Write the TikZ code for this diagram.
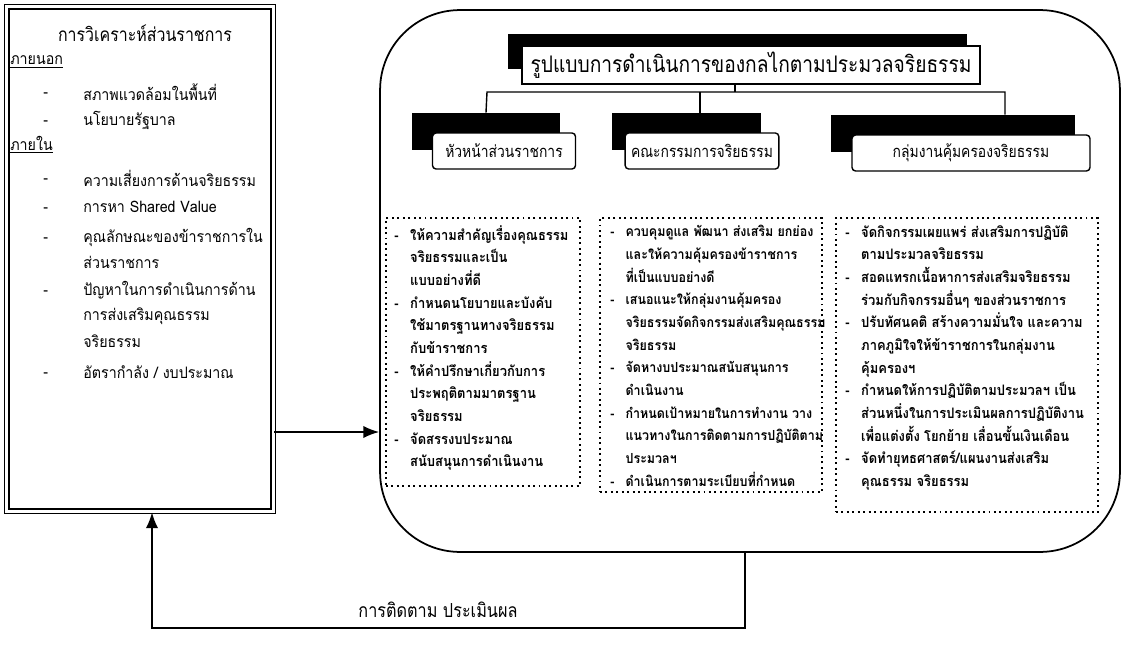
\documentclass[tikz,border=0pt]{standalone}
\usepackage{fontspec}
\setmainfont[Script=Thai]{Loma}
\newfontfamily\sidefont[Script=Thai, FakeStretch=0.9]{Loma}
\newfontfamily\headfont[Script=Thai, FakeStretch=0.84]{Loma}
\newfontfamily\taskfont[Script=Thai, FakeStretch=0.9]{Loma}
\usetikzlibrary{arrows.meta, positioning, calc}
\newcommand{\dsh}{\makebox[1.1em][l]{-}}
\newcommand{\cnt}{\hspace*{1.1em}}

\begin{document}
\begin{tikzpicture}[x=0.02cm, y=-0.02cm,
    frame/.style={draw, double, double distance=1.4pt, line width=1pt},
    shadowbox/.style={fill=black, draw=black},
    titlebox/.style={draw, fill=white, line width=0.8pt, minimum width=9.16cm, minimum height=0.68cm, font=\headfont\fontsize{13}{15}\selectfont},
    headbox/.style={draw, fill=white, rounded corners=2pt, line width=0.8pt, minimum height=0.72cm, font=\headfont\fontsize{9.4}{11}\selectfont},
    taskbox/.style={draw, dotted, line width=1.1pt},
    tasktext/.style={anchor=north west, align=left, inner sep=0pt, font=\taskfont\bfseries\fontsize{8.2}{12.9}\selectfont},
    side/.style={anchor=west, inner sep=0pt, font=\sidefont\fontsize{9}{12}\selectfont},
    tree/.style={line width=0.8pt},
    flow/.style={-{Latex[length=9pt,width=7pt]}, line width=1pt}]

    \useasboundingbox (0,0) rectangle (1123,666);

    % left: analysis of the agency
    \node (anal) [frame, minimum width=5.34cm, minimum height=10.1cm] at (140,259) {};
    \node (atitle) [font=\headfont\fontsize{10.8}{13}\selectfont] at (145,33) {การวิเคราะห์ส่วนราชการ};
    \node (outside) [side] at (10,62) {\underline{ภายนอก}};
    \node (inside) [side] at (10,145) {\underline{ภายใน}};
    \foreach \y [count=\i] in {92,120,178,207,237,290,372}
        \node (dash\i) [side] at (43,\y+3) {-};
    \foreach \y/\t [count=\i] in {92/สภาพแวดล้อมในพื้นที่, 120/นโยบายรัฐบาล,
        178/ความเสี่ยงการด้านจริยธรรม, 207/การหา Shared Value,
        237/คุณลักษณะของข้าราชการใน, 262/ส่วนราชการ,
        290/ปัญหาในการดำเนินการด้าน, 316/การส่งเสริมคุณธรรม,
        341/จริยธรรม, 372/{อัตรากำลัง / งบประมาณ}}
        \node (ln\i) [side] at (83,\y) {\t};

    % right: mechanism
    \node (mech) [draw, line width=1pt, rounded corners=1.6cm, minimum width=14.8cm, minimum height=10.84cm] at (750,281) {};

    \node (ttlsh) [shadowbox, minimum width=9.16cm, minimum height=0.68cm] at (737,51) {};
    \node (ttl) [titlebox] at (751,65) {รูปแบบการดำเนินการของกลไกตามประมวลจริยธรรม};

    \node (hd1sh) [shadowbox, minimum width=2.94cm, minimum height=0.72cm] at (486,131) {};
    \node (hd2sh) [shadowbox, minimum width=2.96cm, minimum height=0.72cm] at (686,131) {};
    \node (hd3sh) [shadowbox, minimum width=4.86cm, minimum height=0.72cm] at (953,133) {};
    \node (hd1) [headbox, minimum width=2.86cm] at (504,151) {หัวหน้าส่วนราชการ};
    \node (hd2) [headbox, minimum width=2.8cm] at (702,151) {คณะกรรมการจริยธรรม};
    \node (hd3) [headbox, minimum width=4.76cm] at (971,153) {กลุ่มงานคุ้มครองจริยธรรม};

    \coordinate (bus) at (735,92);
    \coordinate (b1) at (487,92);
    \coordinate (b2) at (700,92);
    \coordinate (b3) at (1005,92);
    \draw[tree] (ttl.south -| bus) -- (bus);
    \draw[tree] (hd1sh.north) -- (b1) -- (b3) -- (b3 |- hd3sh.north);
    \draw[tree] (b2) -- (b2 |- hd2sh.north);

    \node (task1) [taskbox, minimum width=3.88cm, minimum height=5.36cm] at (483,352) {};
    \node (task2) [taskbox, minimum width=4.44cm, minimum height=5.48cm] at (711,355) {};
    \node (task3) [taskbox, minimum width=5.24cm, minimum height=5.88cm] at (967,365) {};

    \node (txt1) [tasktext] at (394,225) {%
        \dsh ให้ความสำคัญเรื่องคุณธรรม\\
        \cnt จริยธรรมและเป็น\\
        \cnt แบบอย่างที่ดี\\
        \dsh กำหนดนโยบายและบังคับ\\
        \cnt ใช้มาตรฐานทางจริยธรรม\\
        \cnt กับข้าราชการ\\
        \dsh ให้คำปรึกษาเกี่ยวกับการ\\
        \cnt ประพฤติตามมาตรฐาน\\
        \cnt จริยธรรม\\
        \dsh จัดสรรงบประมาณ\\
        \cnt สนับสนุนการดำเนินงาน};
    \node (txt2) [tasktext, font=\taskfont\bfseries\fontsize{7.9}{12.9}\selectfont] at (610,225) {%
        \dsh ควบคุมดูแล พัฒนา ส่งเสริม ยกย่อง\\
        \cnt และให้ความคุ้มครองข้าราชการ\\
        \cnt ที่เป็นแบบอย่างดี\\
        \dsh เสนอแนะให้กลุ่มงานคุ้มครอง\\
        \cnt จริยธรรมจัดกิจกรรมส่งเสริมคุณธรรม\\
        \cnt จริยธรรม\\
        \dsh จัดหางบประมาณสนับสนุนการ\\
        \cnt ดำเนินงาน\\
        \dsh กำหนดเป้าหมายในการทำงาน วาง\\
        \cnt แนวทางในการติดตามการปฏิบัติตาม\\
        \cnt ประมวลฯ\\
        \dsh ดำเนินการตามระเบียบที่กำหนด};
    \node (txt3) [tasktext] at (845,225) {%
        \dsh จัดกิจกรรมเผยแพร่ ส่งเสริมการปฏิบัติ\\
        \cnt ตามประมวลจริยธรรม\\
        \dsh สอดแทรกเนื้อหาการส่งเสริมจริยธรรม\\
        \cnt ร่วมกับกิจกรรมอื่นๆ ของส่วนราชการ\\
        \dsh ปรับทัศนคติ สร้างความมั่นใจ และความ\\
        \cnt ภาคภูมิใจให้ข้าราชการในกลุ่มงาน\\
        \cnt คุ้มครองฯ\\
        \dsh กำหนดให้การปฏิบัติตามประมวลฯ เป็น\\
        \cnt ส่วนหนึ่งในการประเมินผลการปฏิบัติงาน\\
        \cnt เพื่อแต่งตั้ง โยกย้าย เลื่อนขั้นเงินเดือน\\
        \dsh จัดทำยุทธศาสตร์/แผนงานส่งเสริม\\
        \cnt คุณธรรม จริยธรรม};

    % connectors
    \coordinate (lvl) at (0,432);
    \draw[flow] (anal.east |- lvl) -- (mech.west |- lvl);

    \coordinate (fb) at (745,628);
    \coordinate (up) at (152,628);
    \draw[flow] (mech.south -| fb) -- (fb) -- (up) -- (up |- anal.south);
    \node (eval) [font=\headfont\fontsize{11}{13}\selectfont] at (438,610) {การติดตาม ประเมินผล};

\end{tikzpicture}
\end{document}
